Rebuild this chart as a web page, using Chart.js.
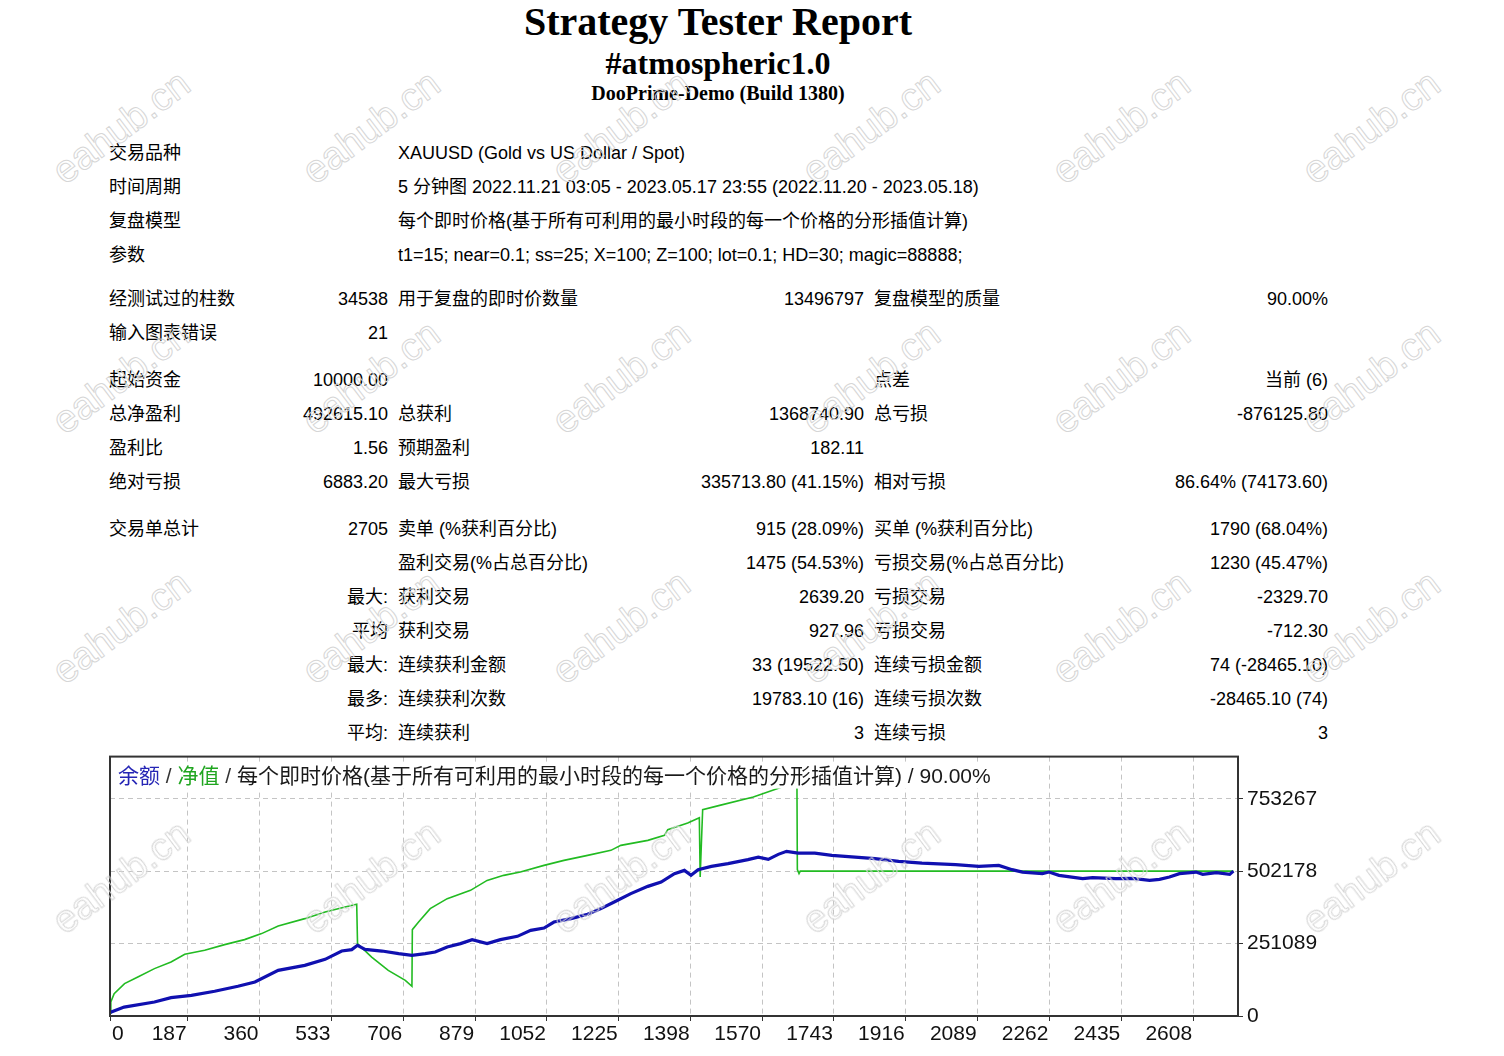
<!DOCTYPE html>
<html>
<head>
<meta charset="utf-8">
<title>Strategy Tester Report</title>
<script src="https://cdn.jsdelivr.net/npm/chart.js@4.4.0/dist/chart.umd.min.js"></script>
<style>
body { margin: 0; background: #fff; width: 1504px; height: 1056px; overflow: hidden; position: relative;
       font-family: "Liberation Sans", "Noto Sans CJK SC", sans-serif; color: #000; }
.head { position: absolute; left: 0; width: 1436px; text-align: center; white-space: nowrap;
        font-family: "Liberation Serif", serif; font-weight: bold; }
.cell { position: absolute; font-size: 18px; line-height: 22px; white-space: nowrap; }
#chartBox { position: absolute; left: 0; top: 740px; width: 1504px; height: 316px; }
.wm { position: absolute; font-family: "Liberation Sans", sans-serif; font-size: 39px; color: transparent;
      -webkit-text-stroke: 1px #d6d6d6; transform: translate(-50%, -50%) rotate(-37deg);
      pointer-events: none; white-space: nowrap; z-index: 5; }
</style>
</head>
<body>
<div class="head" style="top:0px;font-size:40px;line-height:44px;">Strategy Tester Report</div>
<div class="head" style="top:45px;font-size:32px;line-height:36px;">#atmospheric1.0</div>
<div class="head" style="top:81px;font-size:20px;line-height:24px;">DooPrime-Demo (Build 1380)</div>
<div id="report"></div>
<div id="chartBox"><canvas id="equity-chart"></canvas></div>

<script>
// 图表数据 (横轴 = 交易笔数)
const tradeTicks = [0, 187, 360, 533, 706, 879, 1052, 1225, 1398, 1570, 1743, 1916, 2089, 2262, 2435, 2608];
const valueTicks = [0, 251089, 502178, 753267];

const balanceTrades = [0, 34, 107, 147, 196, 252, 308, 349, 405, 469, 518, 558, 582, 596, 614, 655, 695, 727,
    759, 783, 812, 844, 872, 908, 940, 981, 1013, 1045, 1069, 1110, 1150, 1182, 1214, 1254, 1295, 1327, 1359,
    1383, 1399, 1416, 1448, 1488, 1536, 1561, 1585, 1609, 1629, 1657, 1697, 1738, 1794, 1842, 1899, 1955, 2036,
    2092, 2140, 2172, 2197, 2245, 2261, 2285, 2342, 2366, 2422, 2462, 2503, 2527, 2551, 2575, 2615, 2631, 2664,
    2696, 2705];
const balanceValues = [12000, 31000, 48500, 63800, 71800, 85700, 103000, 118000, 158500, 175800, 196600, 225400,
    230300, 245200, 231300, 225400, 216400, 210500, 216400, 222000, 239300, 251100, 265000, 251100, 265000,
    276400, 297200, 305200, 326000, 337800, 352700, 372500, 395400, 424500, 449800, 464700, 493800, 505300,
    488000, 507700, 519100, 528500, 542400, 551400, 543400, 560800, 571200, 565300, 565300, 557300, 551400,
    545900, 536500, 530600, 525100, 519100, 522600, 507700, 499400, 493800, 499400, 488000, 476500, 480000,
    476500, 477500, 470600, 474000, 482000, 493800, 499400, 491400, 497300, 491400, 502615];

const equityTrades = [0, 2, 10, 35, 67, 107, 147, 180, 228, 276, 324, 365, 405, 469, 518, 566, 594, 596, 630, 670,
    711, 727, 728, 743, 771, 812, 868, 908, 948, 988, 1045, 1093, 1150, 1206, 1230, 1295, 1335, 1343, 1391, 1419,
    1421, 1424, 1427, 1468, 1549, 1613, 1654, 1655, 1659, 1662, 2705];
const equityValues = [10000, 48500, 77700, 112400, 135300, 164400, 187300, 214000, 227800, 247600, 265000, 285800,
    312100, 337800, 360700, 378000, 387400, 251100, 204600, 158500, 123800, 103000, 299600, 326000, 372500,
    407100, 436000, 470600, 488000, 499400, 522600, 540000, 557300, 574700, 592000, 609300, 626700, 646400,
    669300, 688000, 482000, 600000, 715800, 730700, 759500, 792100, 812000, 507700, 493800, 502600, 502600];

// 报告表格: [y, 标签1, 数值1, 标签2, 数值2, 标签3, 数值3]
const reportRows = [
    [152, '交易品种', '', 'XAUUSD (Gold vs US Dollar / Spot)', '', '', ''],
    [186, '时间周期', '', '5 分钟图 2022.11.21 03:05 - 2023.05.17 23:55 (2022.11.20 - 2023.05.18)', '', '', ''],
    [220, '复盘模型', '', '每个即时价格(基于所有可利用的最小时段的每一个价格的分形插值计算)', '', '', ''],
    [254, '参数', '', 't1=15; near=0.1; ss=25; X=100; Z=100; lot=0.1; HD=30; magic=88888;', '', '', ''],
    [298, '经测试过的柱数', '34538', '用于复盘的即时价数量', '13496797', '复盘模型的质量', '90.00%'],
    [332, '输入图表错误', '21', '', '', '', ''],
    [379, '起始资金', '10000.00', '', '', '点差', '当前 (6)'],
    [413, '总净盈利', '492615.10', '总获利', '1368740.90', '总亏损', '-876125.80'],
    [447, '盈利比', '1.56', '预期盈利', '182.11', '', ''],
    [481, '绝对亏损', '6883.20', '最大亏损', '335713.80 (41.15%)', '相对亏损', '86.64% (74173.60)'],
    [528, '交易单总计', '2705', '卖单 (%获利百分比)', '915 (28.09%)', '买单 (%获利百分比)', '1790 (68.04%)'],
    [562, '', '', '盈利交易(%占总百分比)', '1475 (54.53%)', '亏损交易(%占总百分比)', '1230 (45.47%)'],
    [596, '', '最大:', '获利交易', '2639.20', '亏损交易', '-2329.70'],
    [630, '', '平均', '获利交易', '927.96', '亏损交易', '-712.30'],
    [664, '', '最大:', '连续获利金额', '33 (19522.50)', '连续亏损金额', '74 (-28465.10)'],
    [698, '', '最多:', '连续获利次数', '19783.10 (16)', '连续亏损次数', '-28465.10 (74)'],
    [732, '', '平均:', '连续获利', '3', '连续亏损', '3']
];

const chartTitle = [
    ['余额', '#2525b5'], [' / ', '#333'], ['净值', '#1fa51f'], [' / ', '#333'],
    ['每个即时价格(基于所有可利用的最小时段的每一个价格的分形插值计算) / 90.00%', '#1a1a1a']
];

document.addEventListener('DOMContentLoaded', () => {
    buildReport();
    addWatermarks();
    createEquityChart();
});

function buildReport() {
    const box = document.getElementById('report');
    // 列: 左对齐 x 或 右对齐 x
    const cols = [['l', 109], ['r', 388], ['l', 398], ['r', 864], ['l', 874], ['r', 1328]];

    reportRows.forEach(row => {
        const y = row[0];
        cols.forEach((col, i) => {
            const text = row[i + 1];
            if (!text) return;
            const div = document.createElement('div');
            div.className = 'cell';
            div.textContent = text;
            div.style.top = (y - 10) + 'px';
            if (col[0] === 'l') div.style.left = col[1] + 'px';
            else div.style.right = (1504 - col[1]) + 'px';
            box.appendChild(div);
        });
    });
}

function addWatermarks() {
    for (let j = 0; j < 4; j++) {
        for (let i = 0; i < 6; i++) {
            const wm = document.createElement('div');
            wm.className = 'wm';
            wm.textContent = 'eahub.cn';
            wm.style.left = (121 + i * 250) + 'px';
            wm.style.top = (127 + j * 250) + 'px';
            document.body.appendChild(wm);
        }
    }
}

const chartFont = '"Liberation Sans", "Noto Sans CJK SC", sans-serif';

const frameAndLabels = {
    id: 'frameAndLabels',
    afterDatasetsDraw(chart) {
        const ctx = chart.ctx;
        const area = chart.chartArea;
        ctx.save();
        ctx.font = '21px ' + chartFont;
        let total = 0;
        chartTitle.forEach(p => { total += ctx.measureText(p[0]).width; });
        ctx.fillStyle = '#fff';
        ctx.fillRect(area.left + 2, area.top + 7, total + 12, 25);
        let x = area.left + 8;
        ctx.textBaseline = 'middle';
        ctx.textAlign = 'left';
        chartTitle.forEach(p => {
            ctx.fillStyle = p[1];
            ctx.fillText(p[0], x, area.top + 21);
            x += ctx.measureText(p[0]).width;
        });
        ctx.restore();
    },
    afterDraw(chart) {
        const ctx = chart.ctx;
        const area = chart.chartArea;
        const xs = chart.scales.x;
        ctx.save();
        ctx.strokeStyle = '#333';
        ctx.lineWidth = 2;
        ctx.strokeRect(area.left, area.top, area.right - area.left, area.bottom - area.top);

        ctx.font = '21px ' + chartFont;
        ctx.fillStyle = '#111';
        ctx.textBaseline = 'middle';
        tradeTicks.forEach(v => {
            const px = xs.getPixelForValue(v);
            if (v === 0) {
                ctx.textAlign = 'left';
                ctx.fillText(String(v), px + 2, area.bottom + 18);
            } else {
                ctx.textAlign = 'right';
                ctx.fillText(String(v), px - 1, area.bottom + 18);
            }
        });
        ctx.restore();
    }
};

function createEquityChart() {
    const ctx = document.getElementById('equity-chart').getContext('2d');
    new Chart(ctx, {
        type: 'line',
        data: {
            datasets: [{
                label: '余额',
                data: balanceTrades.map((t, i) => ({ x: t, y: balanceValues[i] })),
                borderColor: '#1010b0',
                borderWidth: 3.2,
                pointRadius: 0,
                tension: 0
            }, {
                label: '净值',
                data: equityTrades.map((t, i) => ({ x: t, y: equityValues[i] })),
                borderColor: '#22bb22',
                borderWidth: 1.6,
                pointRadius: 0,
                tension: 0
            }]
        },
        options: {
            responsive: true,
            maintainAspectRatio: false,
            animation: false,
            devicePixelRatio: 1,
            layout: { padding: { left: 110, top: 16, right: 0, bottom: 0 } },
            plugins: { legend: { display: false }, tooltip: { enabled: false } },
            scales: {
                x: {
                    type: 'linear',
                    min: 0,
                    max: 2716,
                    afterBuildTicks: scale => { scale.ticks = tradeTicks.map(v => ({ value: v })); },
                    afterFit: scale => { scale.height = 40; },
                    ticks: { display: false },
                    grid: { color: '#c4c4c4', lineWidth: 1, tickLength: 5, tickColor: '#333', tickBorderDash: [] },
                    border: { display: false, dash: [5, 4] }
                },
                y: {
                    position: 'right',
                    min: 0,
                    max: 900000,
                    afterBuildTicks: scale => { scale.ticks = valueTicks.map(v => ({ value: v })); },
                    afterFit: scale => { scale.width = 266; },
                    ticks: { color: '#111', padding: 4, font: { family: chartFont, size: 21 },
                             callback: v => String(v) },
                    grid: { color: '#c4c4c4', lineWidth: 1, tickLength: 5, tickColor: '#333', tickBorderDash: [] },
                    border: { display: false, dash: [5, 4] }
                }
            }
        },
        plugins: [frameAndLabels]
    });
}
</script>
</body>
</html>
